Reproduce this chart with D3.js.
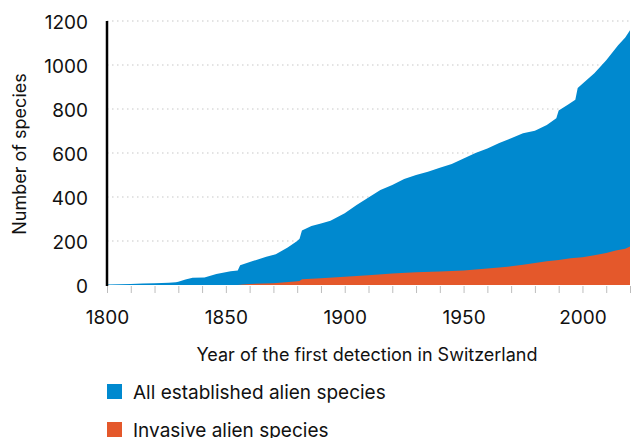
<!DOCTYPE html>
<html>
<head>
<meta charset="utf-8">
<style>
body { margin: 0; background: #fff; }
svg text { font-family: "Inter", "Open Sans", sans-serif; fill: #111; }
.grid line { stroke: #c8c8c8; stroke-width: 1.2px; stroke-dasharray: 1.5,3.5; }
.xaxis line { stroke: #bdbdbd; }
</style>
</head>
<body>
<svg width="633" height="438"></svg>
<script src="https://cdn.jsdelivr.net/npm/d3@7"></script>
<script>

// cumulative counts
var allYears = [1800,1805,1810,1815,1820,1826,1829,1830,1833,1836,1841,1846,1852,1855,1856,1861,1867,1871,1876,1880,1881,1882,1886,1890,1894,1900,1905,1910,1915,1920,1925,1930,1935,1940,1945,1950,1955,1960,1965,1970,1975,1980,1985,1989,1990,1994,1997,1998,2000,2005,2010,2015,2018,2020];
var allValues = [2,3,5,7,8,10,12,15,25,33,34,50,62,66,90,108,128,140,170,200,210,248,268,280,292,326,364,398,432,455,482,500,515,533,550,575,600,620,645,667,690,701,727,758,793,820,842,895,915,962,1022,1090,1125,1158];

var invYears = [1855,1857,1860,1870,1875,1879,1881,1882,1890,1900,1910,1920,1930,1940,1950,1955,1960,1965,1970,1975,1980,1985,1990,1995,2000,2005,2010,2014,2018,2020];
var invValues = [0,2,5,8,12,16,18,26,31,37,44,52,58,61,66,71,75,79,85,92,100,108,114,122,126,135,146,157,165,175];

var yTicks = [0,200,400,600,800,1000,1200];
var xLabels = [1800,1850,1900,1950,2000];
var legendNames = ["All established alien species", "Invasive alien species"];
var colors = ["#0089cf", "#e4582b"];

var svg = d3.select("svg");
var pLeft = 107, pRight = 630, pTop = 21, pBottom = 285;
var fs = "19px";

var x = d3.scaleLinear().domain([1800, 2020]).range([pLeft, pRight]);
var y = d3.scaleLinear().domain([0, 1200]).range([pBottom, pTop]);

// dotted grid
svg.append("g").attr("class", "grid")
  .selectAll("line").data(yTicks.slice(1)).enter().append("line")
  .attr("x1", pLeft).attr("x2", pRight)
  .attr("y1", function(d){ return y(d); }).attr("y2", function(d){ return y(d); });

function toPts(years, vals){
  return years.map(function(yr, i){ return {year: yr, v: vals[i]}; });
}

var area = d3.area()
  .x(function(d){ return x(d.year); })
  .y0(y(0))
  .y1(function(d){ return y(d.v); });

svg.append("path").datum(toPts(allYears, allValues))
  .attr("d", area).attr("fill", colors[0]);
svg.append("path").datum(toPts(invYears, invValues))
  .attr("d", area).attr("fill", colors[1]);

// x axis
var xAxis = d3.axisBottom(x)
  .tickValues(d3.range(1800, 2021, 10))
  .tickSize(7)
  .tickPadding(18)
  .tickFormat(function(d){ return xLabels.indexOf(d) >= 0 ? d : ""; });
var gx = svg.append("g").attr("class", "xaxis")
  .attr("transform", "translate(0," + (pBottom + 1) + ")")
  .call(xAxis);
gx.select(".domain").remove();
gx.selectAll("text").style("font-size", fs).attr("fill", "#111");

// y axis
var yAxis = d3.axisLeft(y).tickValues(yTicks).tickSize(0).tickPadding(19).tickFormat(d3.format("d"));
var gy = svg.append("g").attr("transform", "translate(" + pLeft + ",1)").call(yAxis);
gy.select(".domain").remove();
gy.selectAll("text").style("font-size", fs).attr("fill", "#111");

svg.append("line")
  .attr("x1", pLeft).attr("x2", pLeft)
  .attr("y1", pTop).attr("y2", pBottom + 1)
  .attr("stroke", "#000").attr("stroke-width", 2.5);

// titles
svg.append("text")
  .attr("transform", "translate(26," + ((pTop + pBottom) / 2 + 1) + ") rotate(-90)")
  .attr("text-anchor", "middle")
  .style("font-size", "18px")
  .text("Number of species");

svg.append("text")
  .attr("x", 367).attr("y", 361)
  .attr("text-anchor", "middle")
  .style("font-size", "18px")
  .text("Year of the first detection in Switzerland");

// legend
var leg = svg.selectAll(".leg").data(legendNames).enter().append("g")
  .attr("class", "leg")
  .attr("transform", function(d, i){ return "translate(" + pLeft + "," + (384 + i * 38) + ")"; });
leg.append("rect").attr("width", 15).attr("height", 15)
  .attr("fill", function(d, i){ return colors[i]; });
leg.append("text").attr("x", 26).attr("y", 15)
  .style("font-size", fs)
  .text(function(d){ return d; });

</script>
</body>
</html>
